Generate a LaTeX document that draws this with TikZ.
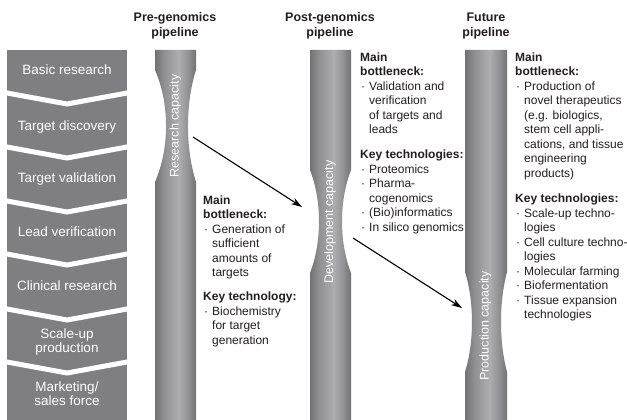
\documentclass[tikz,border=0pt]{standalone}
\usepackage{fontspec}
\setmainfont{Liberation Sans}
\usetikzlibrary{arrows.meta}
\definecolor{boxgray}{HTML}{7F7F81}
\definecolor{pdark}{HTML}{727274}
\definecolor{pmid}{HTML}{909092}
\definecolor{plight}{HTML}{AEAEB0}
\definecolor{txt}{HTML}{231F20}
\pgfdeclarehorizontalshading{pipeshade}{100bp}{color(0bp)=(pdark); color(25bp)=(pdark); color(36bp)=(pmid); color(54bp)=(plight); color(66bp)=(pmid); color(75bp)=(pdark); color(100bp)=(pdark)}
\newcommand\bl{\makebox[9pt][l]{\hspace{1pt}\textperiodcentered}}
\newcommand\ind{\hspace*{9pt}}
\newcommand\hd[1]{{\bfseries #1}}
\begin{document}
\begin{tikzpicture}[x=1pt,y=-1pt,
  boxtext/.style={text=white, font=\fontsize{13.5}{14}\selectfont, align=center, inner sep=0pt, anchor=base},
  captext/.style={text=white, font=\fontsize{12.5}{14}\selectfont, rotate=90, inner sep=0pt},
  titletext/.style={text=txt, font=\fontsize{12.5}{15}\selectfont\bfseries, align=center, inner sep=0pt, anchor=base},
  block/.style={text=txt, font=\fontsize{12}{14.5}\selectfont, align=left, inner sep=0pt, anchor=north west},
  sepline/.style={white, line width=5pt},
  conn/.style={line width=1.1pt, -{Stealth[length=11pt,width=7pt]}},
  pipefill/.style={shading=pipeshade}]
\useasboundingbox (0,0) rectangle (627,420);
\fill[white] (0,0) rectangle (627,420);

% left stage column
\fill[boxgray] (7,50) rectangle (127,420);
\foreach \y in {93,147,201,254,309,362}{
  \draw[sepline] (2,\y-0.9) -- (67,\y+11) -- (132,\y-0.9);
}
\node[boxtext] (s1) at (67,75) {Basic research};
\node[boxtext] (s2) at (67,130) {Target discovery};
\node[boxtext] (s3) at (67,182.5) {Target validation};
\node[boxtext] (s4) at (67,236.5) {Lead verification};
\node[boxtext] (s5) at (67,290) {Clinical research};
\node[boxtext] (s6) at (67,352.5) {Scale-up\\production};
\node[boxtext] (s7) at (67,405.5) {Marketing/\\sales force};

% titles
\node[titletext] (t1) at (175,36.5) {Pre-genomics\\pipeline};
\node[titletext] (t2) at (330,36.5) {Post-genomics\\pipeline};
\node[titletext] (t3) at (486,36.5) {Future\\pipeline};

% pipes
\shade[pipefill] (155,50) -- (155,70) .. controls (169.7,103.6) and (169.7,148.4) .. (155,182)
  -- (155,420) -- (196,420) -- (196,182) .. controls (185.3,148.4) and (185.3,103.6) .. (196,70)
  -- (196,50) -- cycle;
\shade[pipefill] (310,50) -- (310,170) .. controls (322,200.9) and (322,242.1) .. (310,273)
  -- (310,420) -- (351,420) -- (351,273) .. controls (339,242.1) and (339,200.9) .. (351,170)
  -- (351,50) -- cycle;
\shade[pipefill] (465,50) -- (465,272) .. controls (474.3,302) and (474.3,342) .. (465,372)
  -- (465,420) -- (507,420) -- (507,372) .. controls (499,342) and (499,302) .. (507,272)
  -- (507,50) -- cycle;

\node[captext] (c1) at (175.5,126) {Research capacity};
\node[captext] (c2) at (330,222) {Development capacity};
\node[captext] (c3) at (485.5,326) {Production capacity};

% arrows
\coordinate (a1s) at (193,137);
\coordinate (a1e) at (302,207);
\coordinate (a2s) at (353,238);
\coordinate (a2e) at (462,308);
\draw[conn] (a1s) -- (a1e);
\draw[conn] (a2s) -- (a2e);

% text blocks
\node[block] (b1) at (203,195.5) {\hd{Main}\\
\hd{bottleneck:}\\
\bl Generation of\\
\ind sufficient\\
\ind amounts of\\
\ind targets\\[9.5pt]
\hd{Key technology:}\\
\bl Biochemistry\\
\ind for target\\
\ind generation};

\node[block] (b2) at (360,52.5) {\hd{Main}\\
\hd{bottleneck:}\\
\bl Validation and\\
\ind verification\\
\ind of targets and\\
\ind leads\\[10.5pt]
\hd{Key technologies:}\\
\bl Proteomics\\
\bl Pharma-\\
\ind cogenomics\\
\bl (Bio)informatics\\
\bl In silico genomics};

\node[block] (b3) at (515,52.5) {\hd{Main}\\
\hd{bottleneck:}\\
\bl Production of\\
\ind novel therapeutics\\
\ind (e.g. biologics,\\
\ind stem cell appli-\\
\ind cations, and tissue\\
\ind engineering\\
\ind products)\\[11pt]
\hd{Key technologies:}\\
\bl Scale-up techno-\\
\ind logies\\
\bl Cell culture techno-\\
\ind logies\\
\bl Molecular farming\\
\bl Biofermentation\\
\bl Tissue expansion\\
\ind technologies};
\end{tikzpicture}
\end{document}
